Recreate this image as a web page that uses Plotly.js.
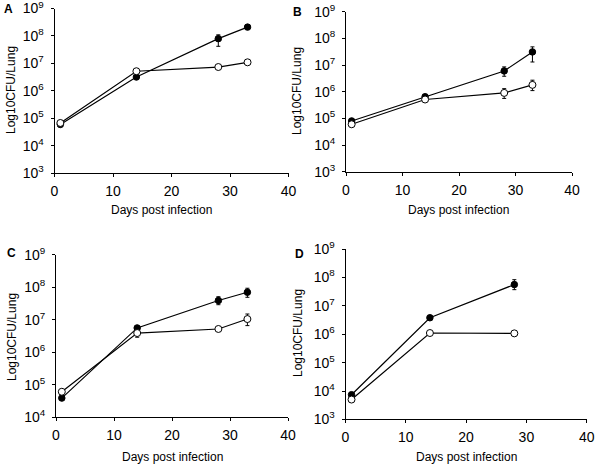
<!DOCTYPE html>
<html>
<head>
<meta charset="utf-8">
<script src="https://cdn.plot.ly/plotly-3.0.1.min.js"></script>
<style>html,body{margin:0;padding:0;background:#fff;}#chart{width:597px;height:468px;}</style>
</head>
<body>
<div id="chart"></div>
<script>
// ---- data ----
const days = [1, 14, 28, 33];
const daysD = [1, 14, 28];

const aFilled = [6.0e4, 3.2e6, 8.0e7, 2.1e8];
const aFilledErrUp = [0, 0, 3.0e7, 0];
const aFilledErrDown = [0, 0, 3.8e7, 0];
const aOpen = [6.8e4, 5.2e6, 7.4e6, 1.1e7];

const bFilled = [8.0e4, 6.5e5, 6.0e6, 3.1e7];
const bFilledErrUp = [0, 0, 2.5e6, 1.7e7];
const bFilledErrDown = [0, 0, 2.2e6, 1.8e7];
const bOpen = [6.0e4, 5.1e5, 9.0e5, 1.8e6];
const bOpenErrUp = [0, 0, 4.0e5, 9.0e5];
const bOpenErrDown = [0, 0, 3.4e5, 7.0e5];

const cFilled = [3.9e4, 5.6e6, 3.9e7, 7.0e7];
const cFilledErrUp = [0, 0, 1.2e7, 2.3e7];
const cFilledErrDown = [0, 0, 1.0e7, 2.1e7];
const cOpen = [6.1e4, 3.9e6, 5.2e6, 1.05e7];
const cOpenErrUp = [0, 0, 0, 4.5e6];
const cOpenErrDown = [0, 1.0e6, 0, 3.9e6];

const dFilled = [7.4e3, 3.8e6, 5.6e7];
const dFilledErrUp = [0, 0, 2.7e7];
const dFilledErrDown = [0, 0, 1.9e7];
const dOpen = [5.0e3, 1.1e6, 1.07e6];

const yTickVals = [1e3, 1e4, 1e5, 1e6, 1e7, 1e8, 1e9];
const yTickText = ['10<sup>3</sup>', '10<sup>4</sup>', '10<sup>5</sup>', '10<sup>6</sup>', '10<sup>7</sup>', '10<sup>8</sup>', '10<sup>9</sup>'];
const xTickVals = [0, 10, 20, 30, 40];
const panelLetters = ['A', 'B', 'C', 'D'];
const xTitle = 'Days post infection';
const yTitle = 'Log10CFU/Lung';

// ---- drawing ----
const W = 597, H = 468;
const FONT = 'Liberation Sans, Arial, sans-serif';

function series(x, y, up, down, filled, ax) {
  const t = {
    x: x, y: y, type: 'scatter', mode: 'lines+markers',
    xaxis: 'x' + ax, yaxis: 'y' + ax,
    line: {color: '#000', width: 1.2},
    marker: {symbol: 'circle', size: filled ? 6.5 : 7, color: filled ? '#000' : '#fff', line: {color: '#000', width: 1}},
    showlegend: false, hoverinfo: 'skip'
  };
  if (up) {
    t.error_y = {type: 'data', symmetric: false, array: up, arrayminus: down, color: '#000', thickness: 1, width: 2};
  }
  return t;
}

const data = [
  series(days, aFilled, aFilledErrUp, aFilledErrDown, true, ''),
  series(days, aOpen, null, null, false, ''),
  series(days, bFilled, bFilledErrUp, bFilledErrDown, true, '2'),
  series(days, bOpen, bOpenErrUp, bOpenErrDown, false, '2'),
  series(days, cFilled, cFilledErrUp, cFilledErrDown, true, '3'),
  series(days, cOpen, cOpenErrUp, cOpenErrDown, false, '3'),
  series(daysD, dFilled, dFilledErrUp, dFilledErrDown, true, '4'),
  series(daysD, dOpen, null, null, false, '4')
];

function px(x) { return x / W; }
function py(y) { return 1 - y / H; }

function xax(l, r, anchor) {
  return {
    domain: [px(l), px(r)], anchor: anchor, range: [0, 40],
    tickvals: xTickVals, ticks: 'outside', ticklen: 3, tickwidth: 1, tickcolor: '#000',
    showline: true, linecolor: '#000', linewidth: 1, showgrid: false, zeroline: false,
    tickfont: {family: FONT, size: 14, color: '#000'}, fixedrange: true,
    ticklabeloverflow: 'allow', ticklabelstandoff: 2
  };
}
function yax(top, bottom, lo, anchor) {
  return {
    domain: [py(bottom), py(top)], anchor: anchor, type: 'log', range: [lo, 9],
    tickvals: yTickVals, ticktext: yTickText,
    ticks: 'outside', ticklen: 3, tickwidth: 1, tickcolor: '#000',
    showline: true, linecolor: '#000', linewidth: 1, showgrid: false, zeroline: false,
    tickfont: {family: FONT, size: 14, color: '#000'}, fixedrange: true,
    ticklabeloverflow: 'allow', ticklabelstandoff: 4
  };
}

function ann(text, x, y, opts) {
  return Object.assign({
    text: text, xref: 'paper', yref: 'paper', x: px(x), y: py(y),
    xanchor: 'center', yanchor: 'middle', showarrow: false,
    font: {family: FONT, size: 12, color: '#000'}
  }, opts || {});
}

const letterFont = {family: FONT, size: 12, color: '#000', weight: 'bold'};
const annotations = [
  ann('<b>' + panelLetters[0] + '</b>', 8, 9, {font: letterFont}),
  ann('<b>' + panelLetters[1] + '</b>', 297, 12, {font: letterFont}),
  ann('<b>' + panelLetters[2] + '</b>', 11, 253, {font: letterFont}),
  ann('<b>' + panelLetters[3] + '</b>', 299, 254, {font: letterFont}),
  ann(yTitle, 11.5, 90.5, {textangle: -90}),
  ann(yTitle, 297.5, 91.5, {textangle: -90}),
  ann(yTitle, 12, 337, {textangle: -90}),
  ann(yTitle, 298, 333, {textangle: -90}),
  ann(xTitle, 161.5, 210),
  ann(xTitle, 458.5, 210.5),
  ann(xTitle, 172.5, 456.5),
  ann(xTitle, 466.5, 457)
];

const layout = {
  width: W, height: H,
  margin: {l: 0, r: 0, t: 0, b: 0},
  paper_bgcolor: '#fff', plot_bgcolor: 'rgba(0,0,0,0)',
  showlegend: false,
  xaxis: xax(54.5, 288.5, 'y'),
  yaxis: yax(8.5, 173.3, 3, 'x'),
  xaxis2: xax(346, 572, 'y2'),
  yaxis2: yax(11.7, 171.7, 3, 'x2'),
  xaxis3: xax(56, 288, 'y3'),
  yaxis3: yax(254.7, 417.3, 4, 'x3'),
  xaxis4: xax(345.5, 586.7, 'y4'),
  yaxis4: yax(249, 419.4, 3, 'x4'),
  annotations: annotations
};

Plotly.newPlot('chart', data, layout, {displayModeBar: false, staticPlot: true});
</script>
</body>
</html>
